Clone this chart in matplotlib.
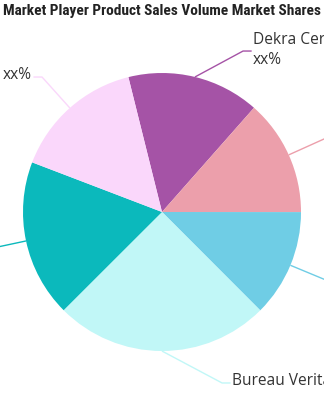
import numpy as np
import matplotlib
matplotlib.use("Agg")
import matplotlib.pyplot as plt
from matplotlib import font_manager

title = "Market Player Product Sales Volume Market Shares"

# slices, clockwise from the top
players = ["Dekra Certification", "TÜV SÜD", "SGS", "Bureau Veritas", "Intertek", "UL"]
shares = [15.4, 13.5, 12.5, 25.0, 18.3, 15.3]
colors = ["#A553A6", "#EC9FAB", "#6FCDE5", "#C1F7F7", "#0BB9BC", "#FAD7FB"]
label_texts = ["Dekra Certification\nxx%", "TÜV SÜD\nxx%", "SGS\nxx%",
               "Bureau Veritas", "Intertek\nxx%", "xx%"]

W, H, DPI = 324, 400, 100
cx, cy, R = 162, 212, 139  # pie centre / radius in pixels

# pick a narrow heavy face for the title if one is installed
installed = {f.name for f in font_manager.fontManager.ttflist}
title_font = "DejaVu Sans"
for name in ["Liberation Sans Narrow", "Roboto Condensed", "DejaVu Sans Condensed",
             "Open Sans Condensed", "Noto Sans Condensed", "Lato"]:
    if name in installed:
        title_font = name
        break

fig = plt.figure(figsize=(W / DPI, H / DPI), dpi=DPI)
ax = fig.add_axes([0, 0, 1, 1])
ax.axis("off")

wedges, _ = ax.pie(shares, colors=colors, startangle=104, counterclock=False,
                   radius=1, wedgeprops=dict(linewidth=0))

ax.set_xlim(-cx / R, (W - cx) / R)
ax.set_ylim(-(H - cy) / R, cy / R)

# label line elbows (None = plain radial elbow)
elbows = [(0.583, 1.158), None, None, (0.432, -1.230), None, (-0.863, 0.971)]
text_dy = [0.005, 0, 0, 0.012, 0, 0.012]

for w, col, txt, elb, dy in zip(wedges, colors, label_texts, elbows, text_dy):
    mid = np.deg2rad((w.theta1 + w.theta2) / 2)
    p0 = np.array([np.cos(mid), np.sin(mid)])
    p1 = np.array(elb) if elb is not None else 1.3 * p0
    side = 1 if p1[0] >= 0 else -1
    p2 = p1 + np.array([side * 0.062, 0])
    ax.plot([p0[0], p1[0], p2[0]], [p0[1], p1[1], p2[1]], color=col, lw=1,
            solid_capstyle="butt", clip_on=False)
    ax.text(p2[0] + side * 0.01, p2[1] + dy, txt,
            ha="left" if side > 0 else "right", va="center",
            fontsize=11.2, color="#333333", linespacing=1.35,
            family=["Open Sans", "DejaVu Sans"], clip_on=False)

t = fig.text(0.5, 1 - 11 / H, title, ha="center", va="center",
             fontweight="black", color="#222222", fontsize=14,
             family=[title_font, "DejaVu Sans"])
fig.canvas.draw()
ext = t.get_window_extent()
t.set_fontsize(14 * 322 / ext.width)

fig.savefig("out.png", dpi=DPI)
